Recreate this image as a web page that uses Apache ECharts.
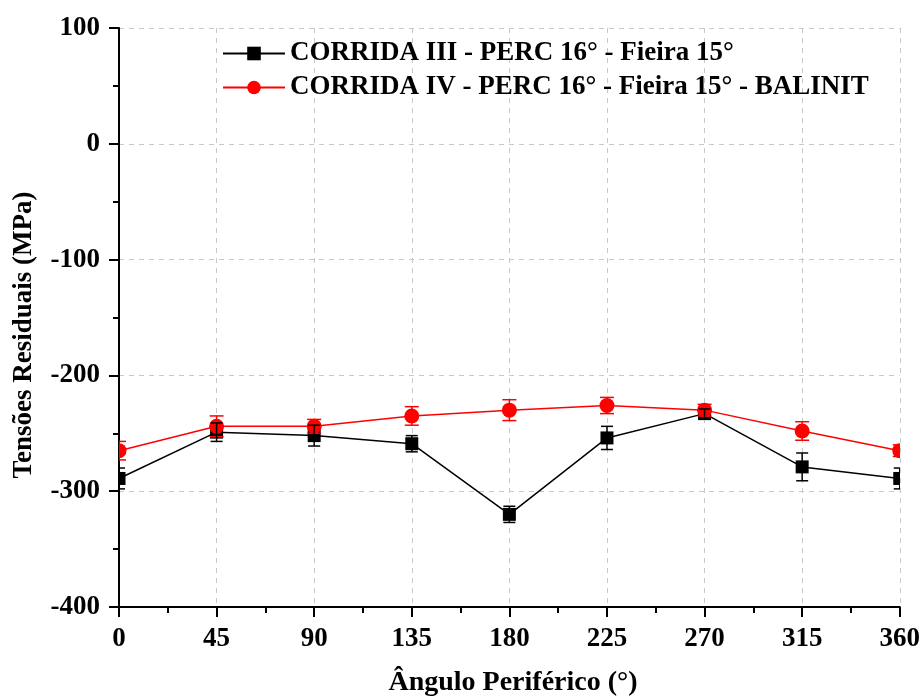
<!DOCTYPE html>
<html>
<head>
<meta charset="utf-8">
<script src="https://cdn.jsdelivr.net/npm/echarts@6/dist/echarts.min.js"></script>
<style>
html,body{margin:0;padding:0;background:#fff;}
#chart{width:923px;height:697px;}
</style>
</head>
<body>
<div id="chart"></div>
<script>
const angles = [0, 45, 90, 135, 180, 225, 270, 315, 360];
const corridaIII = [-289, -249, -252, -259, -320, -254, -233, -279, -289];
const corridaIIIErr = [9, 8, 9, 7, 7, 10, 4, 12, 9];
const corridaIV = [-265, -244, -244, -235, -230, -226, -230, -248, -265];
const corridaIVErr = [8, 9, 6, 8, 9, 7, 5, 8, 5];
const xTicks = [0, 45, 90, 135, 180, 225, 270, 315, 360];
const yTicks = [-400, -300, -200, -100, 0, 100];
const nameIII = 'CORRIDA III - PERC 16° - Fieira 15°';
const nameIV = 'CORRIDA IV - PERC 16° - Fieira 15° - BALINIT';
const xTitle = 'Ângulo Periférico (°)';
const yTitle = 'Tensões Residuais (MPa)';

const FONT = '"Liberation Serif", "Times New Roman", serif';

const ptsIII = angles.map((a, i) => [a, corridaIII[i], corridaIIIErr[i]]);
const ptsIV = angles.map((a, i) => [a, corridaIV[i], corridaIVErr[i]]);

function errRender(color, hw) {
  return function (params, api) {
    const x = api.value(0), v = api.value(1), e = api.value(2);
    const t = api.coord([x, v + e]);
    const b = api.coord([x, v - e]);
    const st = { stroke: color, lineWidth: 1.5 };
    return {
      type: 'group',
      children: [
        { type: 'line', shape: { x1: t[0], y1: t[1], x2: b[0], y2: b[1] }, style: st },
        { type: 'line', shape: { x1: t[0] - hw, y1: t[1], x2: t[0] + hw, y2: t[1] }, style: st },
        { type: 'line', shape: { x1: b[0] - hw, y1: b[1], x2: b[0] + hw, y2: b[1] }, style: st }
      ]
    };
  };
}
function squareRender(params, api) {
  const c = api.coord([api.value(0), api.value(1)]);
  return { type: 'rect', shape: { x: c[0] - 6.5, y: c[1] - 6.5, width: 13, height: 13 }, style: { fill: '#000' } };
}
function circleRender(params, api) {
  const c = api.coord([api.value(0), api.value(1)]);
  return { type: 'circle', shape: { cx: c[0], cy: c[1], r: 7.5 }, style: { fill: '#ff0000' } };
}

const chart = echarts.init(document.getElementById('chart'), null, { renderer: 'canvas' });
chart.setOption({
  animation: false,
  backgroundColor: '#fff',
  grid: { left: 119, right: 23, top: 28, bottom: 90, containLabel: false },
  legend: {
    orient: 'vertical',
    left: 222,
    top: 40,
    padding: 0,
    itemWidth: 62,
    itemHeight: 17,
    itemGap: 7,
    textStyle: { fontFamily: FONT, fontWeight: 'bold', fontSize: 27, color: '#000' },
    data: [nameIII, nameIV]
  },
  xAxis: {
    type: 'value',
    min: 0, max: 360, interval: 45,
    axisLine: { show: true, onZero: false, lineStyle: { color: '#000', width: 2 } },
    axisTick: { show: true, inside: false, length: 10, lineStyle: { color: '#000', width: 2 } },
    minorTick: { show: true, splitNumber: 2, length: 6, lineStyle: { color: '#000', width: 2 } },
    axisLabel: { margin: 19, fontFamily: FONT, fontWeight: 'bold', fontSize: 27, color: '#000',
      formatter: v => String(v) },
    splitLine: { show: true, lineStyle: { color: '#c8c8c8', type: [5, 5], width: 1 } }
  },
  yAxis: {
    type: 'value',
    min: -400, max: 100, interval: 100,
    axisLine: { show: true, onZero: false, lineStyle: { color: '#000', width: 2 } },
    axisTick: { show: true, inside: false, length: 10, lineStyle: { color: '#000', width: 2 } },
    minorTick: { show: true, splitNumber: 2, length: 6, lineStyle: { color: '#000', width: 2 } },
    axisLabel: { margin: 19, fontFamily: FONT, fontWeight: 'bold', fontSize: 27, color: '#000',
      formatter: v => String(v) },
    splitLine: { show: true, lineStyle: { color: '#c8c8c8', type: [5, 5], width: 1 } }
  },
  graphic: [
    { type: 'text', x: 513, y: 683, style: { text: xTitle, font: 'bold 28px ' + FONT, fill: '#000', textAlign: 'center', textVerticalAlign: 'middle' } },
    { type: 'text', x: 24, y: 335, rotation: Math.PI / 2, style: { text: yTitle, font: 'bold 27px ' + FONT, fill: '#000', textAlign: 'center', textVerticalAlign: 'middle' } }
  ],
  series: [
    { name: nameIII, type: 'line', data: ptsIII.map(p => [p[0], p[1]]), symbol: 'rect', symbolSize: 13, showSymbol: false,
      itemStyle: { color: '#000' }, lineStyle: { color: '#000', width: 1.5 }, z: 2 },
    { name: nameIV, type: 'line', data: ptsIV.map(p => [p[0], p[1]]), symbol: 'circle', symbolSize: 15, showSymbol: false,
      itemStyle: { color: '#ff0000' }, lineStyle: { color: '#ff0000', width: 1.5 }, z: 2 },
    { type: 'custom', data: ptsIII, renderItem: squareRender, clip: true, z: 3, silent: true },
    { type: 'custom', data: ptsIV, renderItem: circleRender, clip: true, z: 3, silent: true },
    { type: 'custom', data: ptsIV, renderItem: errRender('#ff0000', 7), clip: true, z: 4, silent: true },
    { type: 'custom', data: ptsIII, renderItem: errRender('#000', 6), clip: true, z: 4, silent: true }
  ]
});
</script>
</body>
</html>
